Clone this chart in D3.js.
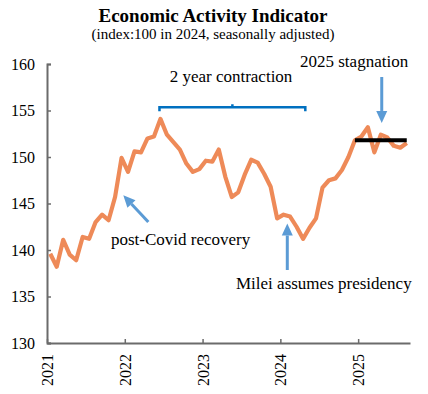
<!DOCTYPE html>
<html>
<head>
<meta charset="utf-8">
<script src="https://cdn.jsdelivr.net/npm/d3@7"></script>
<style>
  body { margin: 0; background: #fff; }
  svg text { font-family: "Liberation Serif", "Times New Roman", serif; fill: #000; }
</style>
</head>
<body>
<svg id="chart" width="428" height="394"></svg>
<script>
// monthly index, Jan 2021 .. Aug 2025
const months = d3.range(56).map(i => new Date(2021, i, 1));
const activity = [
    139.6, 138.2, 141.1, 139.5, 138.9, 141.4, 141.2, 143.0, 143.8, 143.2, 145.7, 149.9,
    148.4, 150.6, 150.5, 152.0, 152.2, 154.1, 152.4, 151.6, 150.8, 149.3, 148.4, 148.7,
    149.6, 149.5, 150.8, 147.9, 145.7, 146.2, 148.1, 149.7, 149.4, 148.2, 146.8, 143.4,
    143.8, 143.6, 142.5, 141.2, 142.4, 143.4, 146.7, 147.5, 147.7, 148.6, 150.0, 151.8,
    152.2, 153.2, 150.5, 152.4, 152.1, 151.2, 151.0, 151.5
];
// 2025 stagnation level (flat line)
const stagStart = 47, stagEnd = 55;
const stagLevel = 151.8;

const yTicks = [130, 135, 140, 145, 150, 155, 160];
const xYears = ["2021", "2022", "2023", "2024", "2025"];

let svg = d3.select("#chart");
let margin = {left: 47, right: 18, top: 64, bottom: 51};
let width = 428, height = 394;
let serif = '"Liberation Serif", "Times New Roman", serif';

let x = d3.scaleLinear().domain([0, 56]).range([margin.left, width - margin.right]);
let y = d3.scaleLinear().domain([130, 160]).range([height - margin.bottom, margin.top]);

// title
svg.append("text")
    .attr("x", 213).attr("y", 22)
    .attr("text-anchor", "middle")
    .style("font-size", "19px").style("font-weight", "bold")
    .text("Economic Activity Indicator");
svg.append("text")
    .attr("x", 213).attr("y", 39)
    .attr("text-anchor", "middle")
    .style("font-size", "15px")
    .text("(index:100 in 2024, seasonally adjusted)");

// axes
let axisColor = "#6b6b6b";
let yAxis = svg.append("g")
    .attr("transform", `translate(${margin.left},0)`)
    .call(d3.axisLeft(y).tickValues(yTicks).tickSizeInner(-4).tickSizeOuter(-4).tickPadding(12));
let xAxis = svg.append("g")
    .attr("transform", `translate(0,${height - margin.bottom})`)
    .call(d3.axisBottom(x).tickValues(xYears.map((d, i) => i * 12)).tickFormat((d, i) => xYears[i])
        .tickSizeInner(-4).tickSizeOuter(0).tickPadding(10));

[yAxis, xAxis].forEach(a => {
    a.attr("font-family", serif).attr("font-size", 16);
    a.select(".domain").attr("stroke", axisColor).attr("stroke-width", 2);
    a.selectAll(".tick line").attr("stroke", axisColor).attr("stroke-width", 1.5);
    a.selectAll("text").attr("fill", "#000")
        .style("font-family", serif).style("font-size", "16px");
});
xAxis.selectAll(".tick text")
    .attr("transform", "rotate(-90)")
    .attr("text-anchor", "end")
    .attr("x", -11).attr("y", 0).attr("dy", "0.35em");

// main line
let line = d3.line()
    .x((d, i) => x(i + 0.5))
    .y(d => y(d));

svg.append("path")
    .datum(activity)
    .attr("d", line)
    .attr("fill", "none")
    .attr("stroke", "#ee8a58")
    .attr("stroke-width", 4.2)
    .attr("stroke-linejoin", "round");

// stagnation level
svg.append("line")
    .attr("x1", x(stagStart + 0.5)).attr("x2", x(stagEnd + 0.5))
    .attr("y1", y(stagLevel)).attr("y2", y(stagLevel))
    .attr("stroke", "#000").attr("stroke-width", 4);

// bracket for 2 year contraction
let bx0 = x(17.35), bx1 = x(39.85), bxm = x(28.6), by = y(155.35);
svg.append("path")
    .attr("d", `M${bx0},${by + 4}V${by}H${bx1}V${by + 4}M${bxm},${by}V${by - 3}`)
    .attr("fill", "none")
    .attr("stroke", "#0070c0")
    .attr("stroke-width", 2.5);

// arrows
function arrow(x1, y1, x2, y2) {
    let dx = x2 - x1, dy = y2 - y1;
    let len = Math.sqrt(dx * dx + dy * dy);
    let ux = dx / len, uy = dy / len;
    let hl = 12, hw = 5.5;
    let bx = x2 - ux * hl, by = y2 - uy * hl;
    svg.append("line")
        .attr("x1", x1).attr("y1", y1).attr("x2", bx).attr("y2", by)
        .attr("stroke", "#5b9bd5").attr("stroke-width", 3);
    svg.append("path")
        .attr("d", `M${x2},${y2}L${bx - uy * hw},${by + ux * hw}L${bx + uy * hw},${by - ux * hw}Z`)
        .attr("fill", "#5b9bd5");
}
arrow(x(15.63), y(143.0), x(11.77), y(145.9));
arrow(x(37.07), y(137.85), x(37.07), y(142.85));
arrow(x(51.64), y(158.6), x(51.64), y(153.66));

// annotation text
function note(tx, ty, s, anchor) {
    svg.append("text")
        .attr("x", tx).attr("y", ty)
        .attr("text-anchor", anchor || "start")
        .style("font-size", "17px")
        .text(s);
}
note(231, 82, "2 year contraction", "middle");
note(300, 67, "2025 stagnation");
note(111, 245, "post-Covid recovery");
note(236, 289, "Milei assumes presidency");
</script>
</body>
</html>
